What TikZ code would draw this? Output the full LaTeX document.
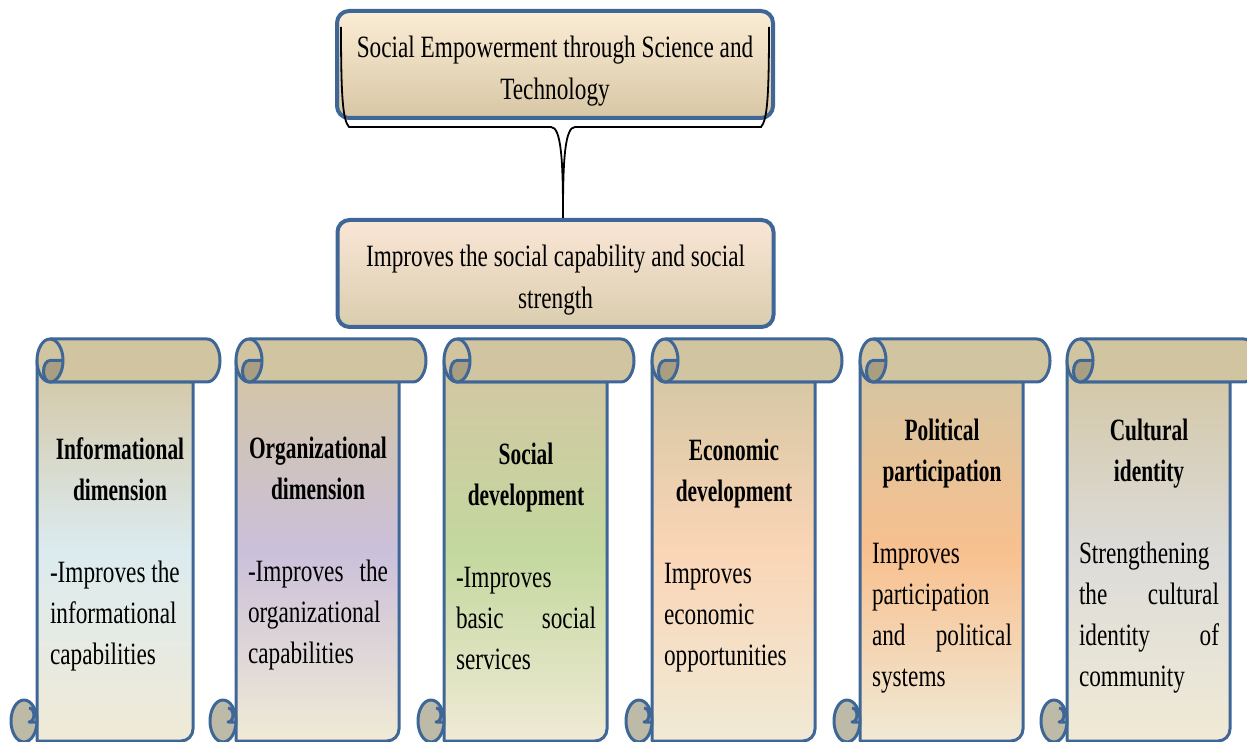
\documentclass[tikz,border=0pt]{standalone}
\usepackage{fontspec}
\setmainfont{Liberation Serif}[UprightFeatures={FakeStretch=0.75}, BoldFeatures={FakeStretch=0.69}]
\usetikzlibrary{calc}

\definecolor{scrollblue}{HTML}{3E6697}
\definecolor{rolltan}{HTML}{D1C4A0}
\definecolor{bodytan}{HTML}{D3C6A3}
\definecolor{curldark}{HTML}{A89E82}
\definecolor{curlgray}{HTML}{BEBAA8}
\definecolor{cream}{HTML}{F0EAD6}
\definecolor{infoblue}{HTML}{DCEBEF}
\definecolor{orglav}{HTML}{CBC0DA}
\definecolor{socgreen}{HTML}{C3D89E}
\definecolor{ecopeach}{HTML}{FAD5B6}
\definecolor{polorange}{HTML}{F8C08F}
\definecolor{culgray}{HTML}{DCDBD8}
\definecolor{headtop}{HTML}{FBECD5}
\definecolor{headbot}{HTML}{D8C7A5}
\definecolor{midtop}{HTML}{FAE6D6}
\definecolor{midbot}{HTML}{DACDAE}

\hyphenpenalty=10000
\tolerance=9999

\begin{document}
\begin{tikzpicture}[x=0.5pt,y=-0.5pt,
  headbox/.style={draw=scrollblue, line width=2pt, rounded corners=6pt, minimum width=218pt, minimum height=53.5pt, align=center, inner sep=0pt, font=\fontsize{15.5}{21}\selectfont},
  scrolledge/.style={draw=scrollblue, line width=1.5pt, line join=round},
  scrolltext/.style={text width=70pt, align=justify, inner sep=0pt, font=\fontsize{15.5}{20.5}\selectfont},
  callout/.style={draw=black, line width=0.9pt}]

\useasboundingbox (0,0) rectangle (1247,742);
\clip (0,0) rectangle (1247,742);

\node[headbox, top color=headtop, bottom color=headbot] (top) at (555,64.5) {\rule{0pt}{17pt}Social Empowerment through Science and\\Technology};
\node[headbox, top color=midtop, bottom color=midbot] (mid) at (555.5,273.5) {\rule{0pt}{17pt}Improves the social capability and social\\strength};

% callout
\draw[callout] ($(top.north west)+(6,18)$) .. controls ($(top.south west)+(6,-20)$) and ($(top.south west)+(8,0)$) .. ($(top.south west)+(14,7)$)
  -- ($(top.south)+(-4,7)$) .. controls ($(top.south)+(6,7)$) and ($(top.south)+(8,40)$) .. ($(top.south)+(8,92)$)
  .. controls ($(top.south)+(8,40)$) and ($(top.south)+(10,7)$) .. ($(top.south)+(20,7)$)
  -- ($(top.south east)+(-14,7)$) .. controls ($(top.south east)+(-8,0)$) and ($(top.south east)+(-6,-20)$) .. ($(top.north east)+(-6,18)$);
\draw[callout] ($(top.south)+(8,92)$) -- ($(mid.north)+(7.5,0)$);

% scrolls
\foreach \xl/\bw/\midc in {37/156/infoblue,236/163/orglav,444/163/socgreen,652/163/ecopeach,860/163/polorange,1067/163/culgray}{
  \draw[scrolledge, top color=bodytan, bottom color=cream, middle color=\midc]
    (\xl,360) -- (\xl,741) -- (\xl+\bw-12,741) arc[start angle=90,end angle=0,radius=12] -- (\xl+\bw,382) -- (\xl+13,382) -- cycle;
  \draw[scrolledge, fill=rolltan] (\xl+13,339) -- (\xl+\bw+14,339) arc[start angle=270,end angle=450,x radius=13,y radius=21.5]
    -- (\xl+13,382) arc[start angle=90,end angle=270,x radius=13,y radius=21.5] -- cycle;
  \draw[scrolledge] (\xl+13,339) arc[start angle=270,end angle=360,x radius=13,y radius=21.5];
  \draw[scrolledge, fill=curldark] (\xl+13,360.5) arc[start angle=270,end angle=90,x radius=6.5,y radius=10.75]
    arc[start angle=90,end angle=0,x radius=13,y radius=21.5] -- cycle;
  \draw[scrolledge, fill=curlgray] (\xl-13,721) ellipse[x radius=13,y radius=21];
  \draw[scrolledge] (\xl-8,708) arc[start angle=270,end angle=450,x radius=5,y radius=7] -- (\xl,722);
}

\node[scrolltext] (info) at (120,554) {{\centering\bfseries Informational\\dimension\par}\vskip\baselineskip -Improves the\\informational\\capabilities};
\node[scrolltext] (org) at (318,554) {{\centering\bfseries Organizational\\dimension\par}\vskip\baselineskip -Improves the\linebreak organizational\\capabilities};
\node[scrolltext] (soc) at (526,556) {{\centering\bfseries Social\\development\par}\vskip\baselineskip -Improves\\basic social\linebreak services};
\node[scrolltext] (eco) at (734,556) {{\centering\bfseries Economic\\development\par}\vskip\baselineskip Improves\\economic\\opportunities};
\node[scrolltext] (pol) at (942,556) {{\centering\bfseries Political\\participation\par}\vskip\baselineskip Improves\\participation\\and political\linebreak systems};
\node[scrolltext] (cul) at (1149,556) {{\centering\bfseries Cultural\\identity\par}\vskip\baselineskip Strengthening\\the cultural\linebreak identity of\linebreak community};

\end{tikzpicture}
\end{document}
